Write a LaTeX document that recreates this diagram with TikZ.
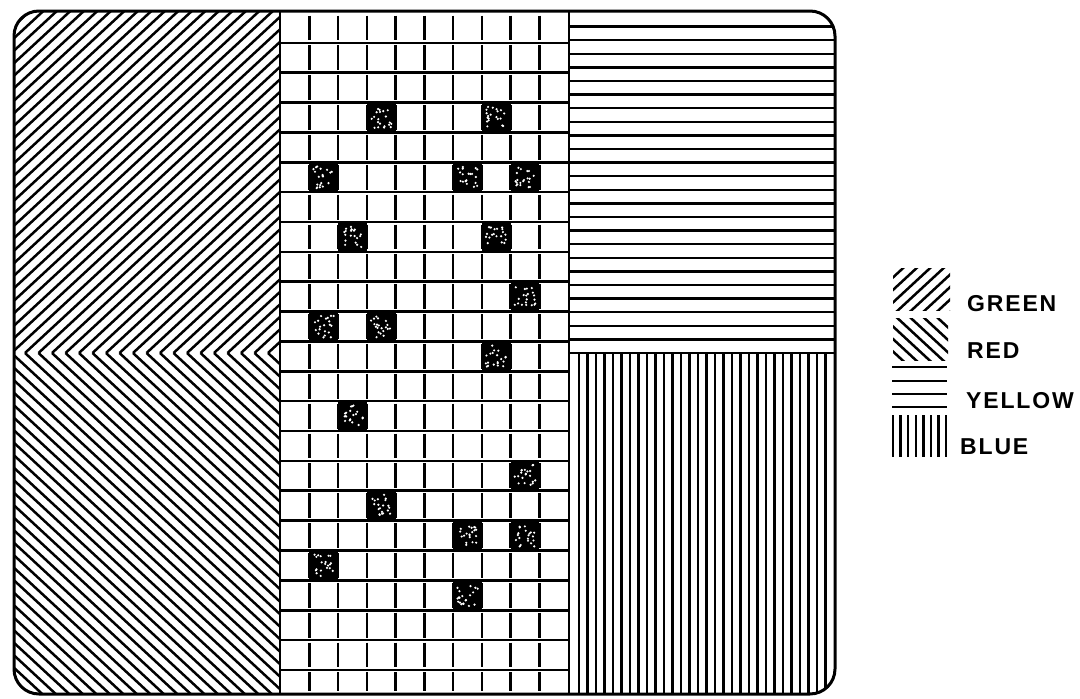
\documentclass[tikz,border=0pt]{standalone}
\usepackage{fontspec}
\setmainfont{Liberation Sans}
\usetikzlibrary{patterns}
\begin{document}
\begin{tikzpicture}[x=1pt,y=-1pt,
  frame/.style={line width=3pt, rounded corners=25pt},
  hatch/.style={line width=2.5pt},
  gridline/.style={line width=2.6pt},
  speck/.style={fill=white},
  legendtext/.style={anchor=west, inner sep=0pt, font=\bfseries\fontsize{23}{23}\selectfont\addfontfeature{LetterSpace=8}}]
\useasboundingbox (0,0) rectangle (1080,699);
\def\dh{13.5}
\def\dv{12.5}
% ---------- hatched regions ----------
\begin{scope}
  \clip[rounded corners=25pt] (14,11) rectangle (835,694);
  % green (top left)
  \begin{scope}
    \clip (14,11) rectangle (280,353);
    \foreach \k in {0,...,52}
      \draw[hatch] ({268-\k*\dh},353) -- ++({45*\dh},{-45*\dv});
  \end{scope}
  % red (bottom left)
  \begin{scope}
    \clip (14,353) rectangle (280,694);
    \foreach \k in {0,...,52}
      \draw[hatch] ({268-\k*\dh},353) -- ++({45*\dh},{45*\dv});
  \end{scope}
  % yellow (top right)
  \foreach \k in {1,...,24}
    \draw[hatch] (569,{13+13.6*\k}) -- (835,{13+13.6*\k});
  % blue (bottom right)
  \foreach \k in {0,...,29}
    \draw[hatch] ({579+8.5*\k},353) -- ({579+8.5*\k},694);
\end{scope}
% ---------- grid ----------
\pgfmathsetseed{7}
\foreach \r/\c in {3/3,3/7,5/1,5/6,5/8,7/2,7/7,9/8,10/1,10/3,11/7,13/2,15/8,16/3,17/6,17/8,18/1,19/6}{
  \fill ({280.7+28.74*\c},{13+29.86*\r}) rectangle ++(28.74,29.86);
  \foreach \i in {1,...,20}
    \fill[speck] ({280.7+28.74*\c+4+rnd*20.7},{13+29.86*\r+4+rnd*21.8}) circle (1.2);
}
\foreach \r in {1,...,22}
  \draw[gridline] (280,{13+29.86*\r}) -- (569,{13+29.86*\r});
\foreach \r in {0,...,22}
  \foreach \c in {1,...,9}
    \draw[gridline] ({280.7+28.74*\c},{13+29.86*\r+2.5}) -- ({280.7+28.74*\c},{min(13+29.86*(\r+1)-2.5,691)});
% ---------- dividers and frame ----------
\draw[gridline] (280,11) -- (280,694);
\draw[gridline] (569,11) -- (569,694);
\draw[gridline] (569,353) -- (835,353);
\draw[frame] (14,11) rectangle (835,694);
% ---------- legend ----------
\begin{scope}
  \clip (893,268) rectangle (950,310);
  \foreach \k in {-7,...,7}
    \draw[hatch] ({921+\k*\dh-5*\dh},{289+5*\dv}) -- ({921+\k*\dh+5*\dh},{289-5*\dv});
\end{scope}
\begin{scope}
  \clip (893,318) rectangle (948,360);
  \foreach \k in {-7,...,7}
    \draw[hatch] ({920+\k*\dh-5*\dh},{339-5*\dv}) -- ({920+\k*\dh+5*\dh},{339+5*\dv});
\end{scope}
\foreach \y in {367,381,394,407}
  \draw[hatch] (892,\y) -- (947,\y);
\foreach \k in {0,...,7}
  \draw[hatch] ({893+7.6*\k},415) -- ({893+7.6*\k},457);
\node[legendtext] (green) at (967,304) {GREEN};
\node[legendtext] (red) at (967,351) {RED};
\node[legendtext] (yellow) at (966,401) {YELLOW};
\node[legendtext] (blue) at (960,447) {BLUE};
\end{tikzpicture}
\end{document}
